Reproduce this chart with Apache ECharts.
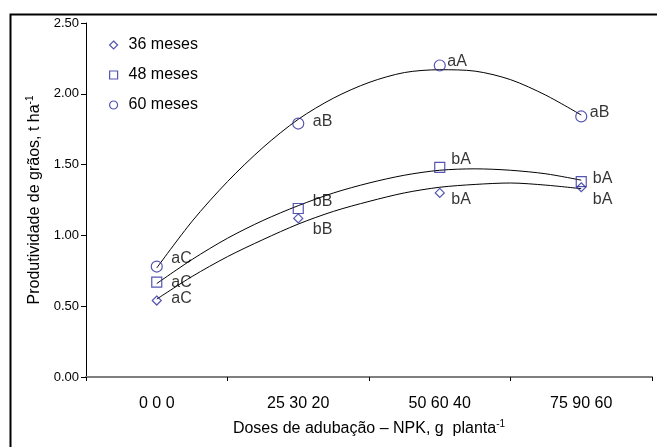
<!DOCTYPE html>
<html>
<head>
<meta charset="utf-8">
<script src="https://cdn.jsdelivr.net/npm/echarts@6/dist/echarts.min.js"></script>
<style>html,body{margin:0;padding:0;background:#fff}#c{width:657px;height:447px}</style>
</head>
<body>
<div id="c"></div>
<script>
// ---- data ----
var categories = ['0 0 0', '25 30 20', '50 60 40', '75 90 60'];
var seriesNames = ['36 meses', '48 meses', '60 meses'];
var v36 = [0.54, 1.12, 1.30, 1.34];
var v48 = [0.67, 1.19, 1.48, 1.38];
var v60 = [0.78, 1.79, 2.20, 1.84];
var lab36 = ['aC', 'bB', 'bA', 'bA'];
var lab48 = ['aC', 'bB', 'bA', 'bA'];
var lab60 = ['aC', 'aB', 'aA', 'aB'];
// trend curves (x in category units)
var trendX = [0, 0.25, 0.5, 0.75, 1, 1.25, 1.5, 1.75, 2, 2.25, 2.5, 2.75, 3];
var trend36 = [0.55, 0.71, 0.85, 0.97, 1.08, 1.17, 1.24, 1.30, 1.34, 1.36, 1.37, 1.355, 1.33];
var trend48 = [0.66, 0.83, 0.98, 1.105, 1.21, 1.30, 1.37, 1.425, 1.46, 1.47, 1.46, 1.435, 1.39];
var trend60 = [0.77, 1.10, 1.38, 1.62, 1.82, 1.97, 2.08, 2.15, 2.17, 2.16, 2.10, 1.99, 1.85];
var yTicks = [0, 0.5, 1, 1.5, 2, 2.5];

// ---- styles ----
var navy = '#2b2b9c';
var FONT = 'Liberation Sans, Arial, sans-serif';
var symbols = ['diamond', 'rect', 'circle'];
var symSizes = [9, 10, 11];
// label offsets [dx from centre, dy]
var off36 = [[14, -2], [14, 11], [11, 7], [11, 12]];
var off48 = [[14, 0], [14, -7], [11, -8], [11, -3]];
var off60 = [[14, -8], [14, -2], [7, -4], [8, -4]];

function pts(vals, labs, offs, size) {
  return vals.map(function (v, i) {
    return {
      value: [i, v],
      label: {
        show: true, position: 'right', distance: 0,
        offset: [offs[i][0] - size / 2, offs[i][1]],
        formatter: labs[i], color: '#000', fontSize: 16, fontFamily: FONT
      }
    };
  });
}
function curve(vals) { return trendX.map(function (x, i) { return [x, vals[i]]; }); }

var allVals = [v36, v48, v60], allLabs = [lab36, lab48, lab60], allOffs = [off36, off48, off60];
var trends = [trend36, trend48, trend60];
var series = [];
for (var k = 0; k < 3; k++) {
  series.push({
    name: seriesNames[k] + ' trend', type: 'line', xAxisIndex: 1,
    data: curve(trends[k]), smooth: 0.3, showSymbol: false, symbol: 'none',
    lineStyle: { color: '#000', width: 1 }, z: 2, silent: true
  });
}
for (var k = 0; k < 3; k++) {
  series.push({
    name: seriesNames[k], type: 'scatter', xAxisIndex: 0,
    symbol: symbols[k], symbolSize: symSizes[k],
    itemStyle: { color: 'rgba(255,255,255,0)', borderColor: navy, borderWidth: 1.2 },
    data: pts(allVals[k], allLabs[k], allOffs[k], symSizes[k]), z: 3
  });
}

var chart = echarts.init(document.getElementById('c'));
chart.setOption({
  animation: false,
  backgroundColor: '#fff',
  textStyle: { fontFamily: FONT },
  grid: { left: 86, right: 5, top: 23, bottom: 70, containLabel: false },
  legend: {
    orient: 'vertical', left: 109, top: 37, padding: 0, itemGap: 14,
    itemWidth: 8, itemHeight: 8,
    textStyle: { fontSize: 16, color: '#000', fontFamily: FONT, padding: [0, 0, 0, 6] },
    data: seriesNames.map(function (n, i) {
      return { name: n, icon: symbols[i], itemStyle: { color: 'rgba(255,255,255,0)', borderColor: navy, borderWidth: 1.2 } };
    })
  },
  xAxis: [{
    type: 'category', data: categories, boundaryGap: true,
    axisLine: { lineStyle: { color: '#7f7f7f', width: 2 } },
    axisTick: { show: true, length: 4, lineStyle: { color: '#000' } },
    axisLabel: { color: '#000', fontSize: 16, margin: 19, fontFamily: FONT },
    name: '{a|Doses de adubação – NPK, g  planta}{s|-1}',
    nameLocation: 'middle', nameGap: 42,
    nameTextStyle: { rich: { a: { fontSize: 16, color: '#000', fontFamily: FONT }, s: { fontSize: 10, color: '#000', fontFamily: FONT, padding: [0, 0, 9, 0] } } }
  }, {
    type: 'value', min: -0.5, max: 3.5, show: false
  }],
  yAxis: {
    type: 'value', min: 0, max: 2.5, interval: 0.5,
    axisLine: { show: true, onZero: false, lineStyle: { color: '#000', width: 1 } },
    axisTick: { show: true, length: 5, lineStyle: { color: '#000' } },
    splitLine: { show: false },
    axisLabel: { color: '#000', fontSize: 13, margin: 7, fontFamily: FONT, formatter: function (v) { return v.toFixed(2); } },
    name: '{a|Produtividade de grãos, t ha}{s|-1}',
    nameLocation: 'middle', nameGap: 42, nameRotate: 90,
    nameTextStyle: { rich: { a: { fontSize: 16, color: '#000', fontFamily: FONT }, s: { fontSize: 10, color: '#000', fontFamily: FONT, padding: [0, 0, 9, 0] } } }
  },
  graphic: [{
    type: 'rect', left: 8, top: 12, silent: true, z: -1,
    shape: { width: 700, height: 500 },
    style: { fill: 'none', stroke: '#000', lineWidth: 2 }
  }],
  series: series
});
</script>
</body>
</html>
